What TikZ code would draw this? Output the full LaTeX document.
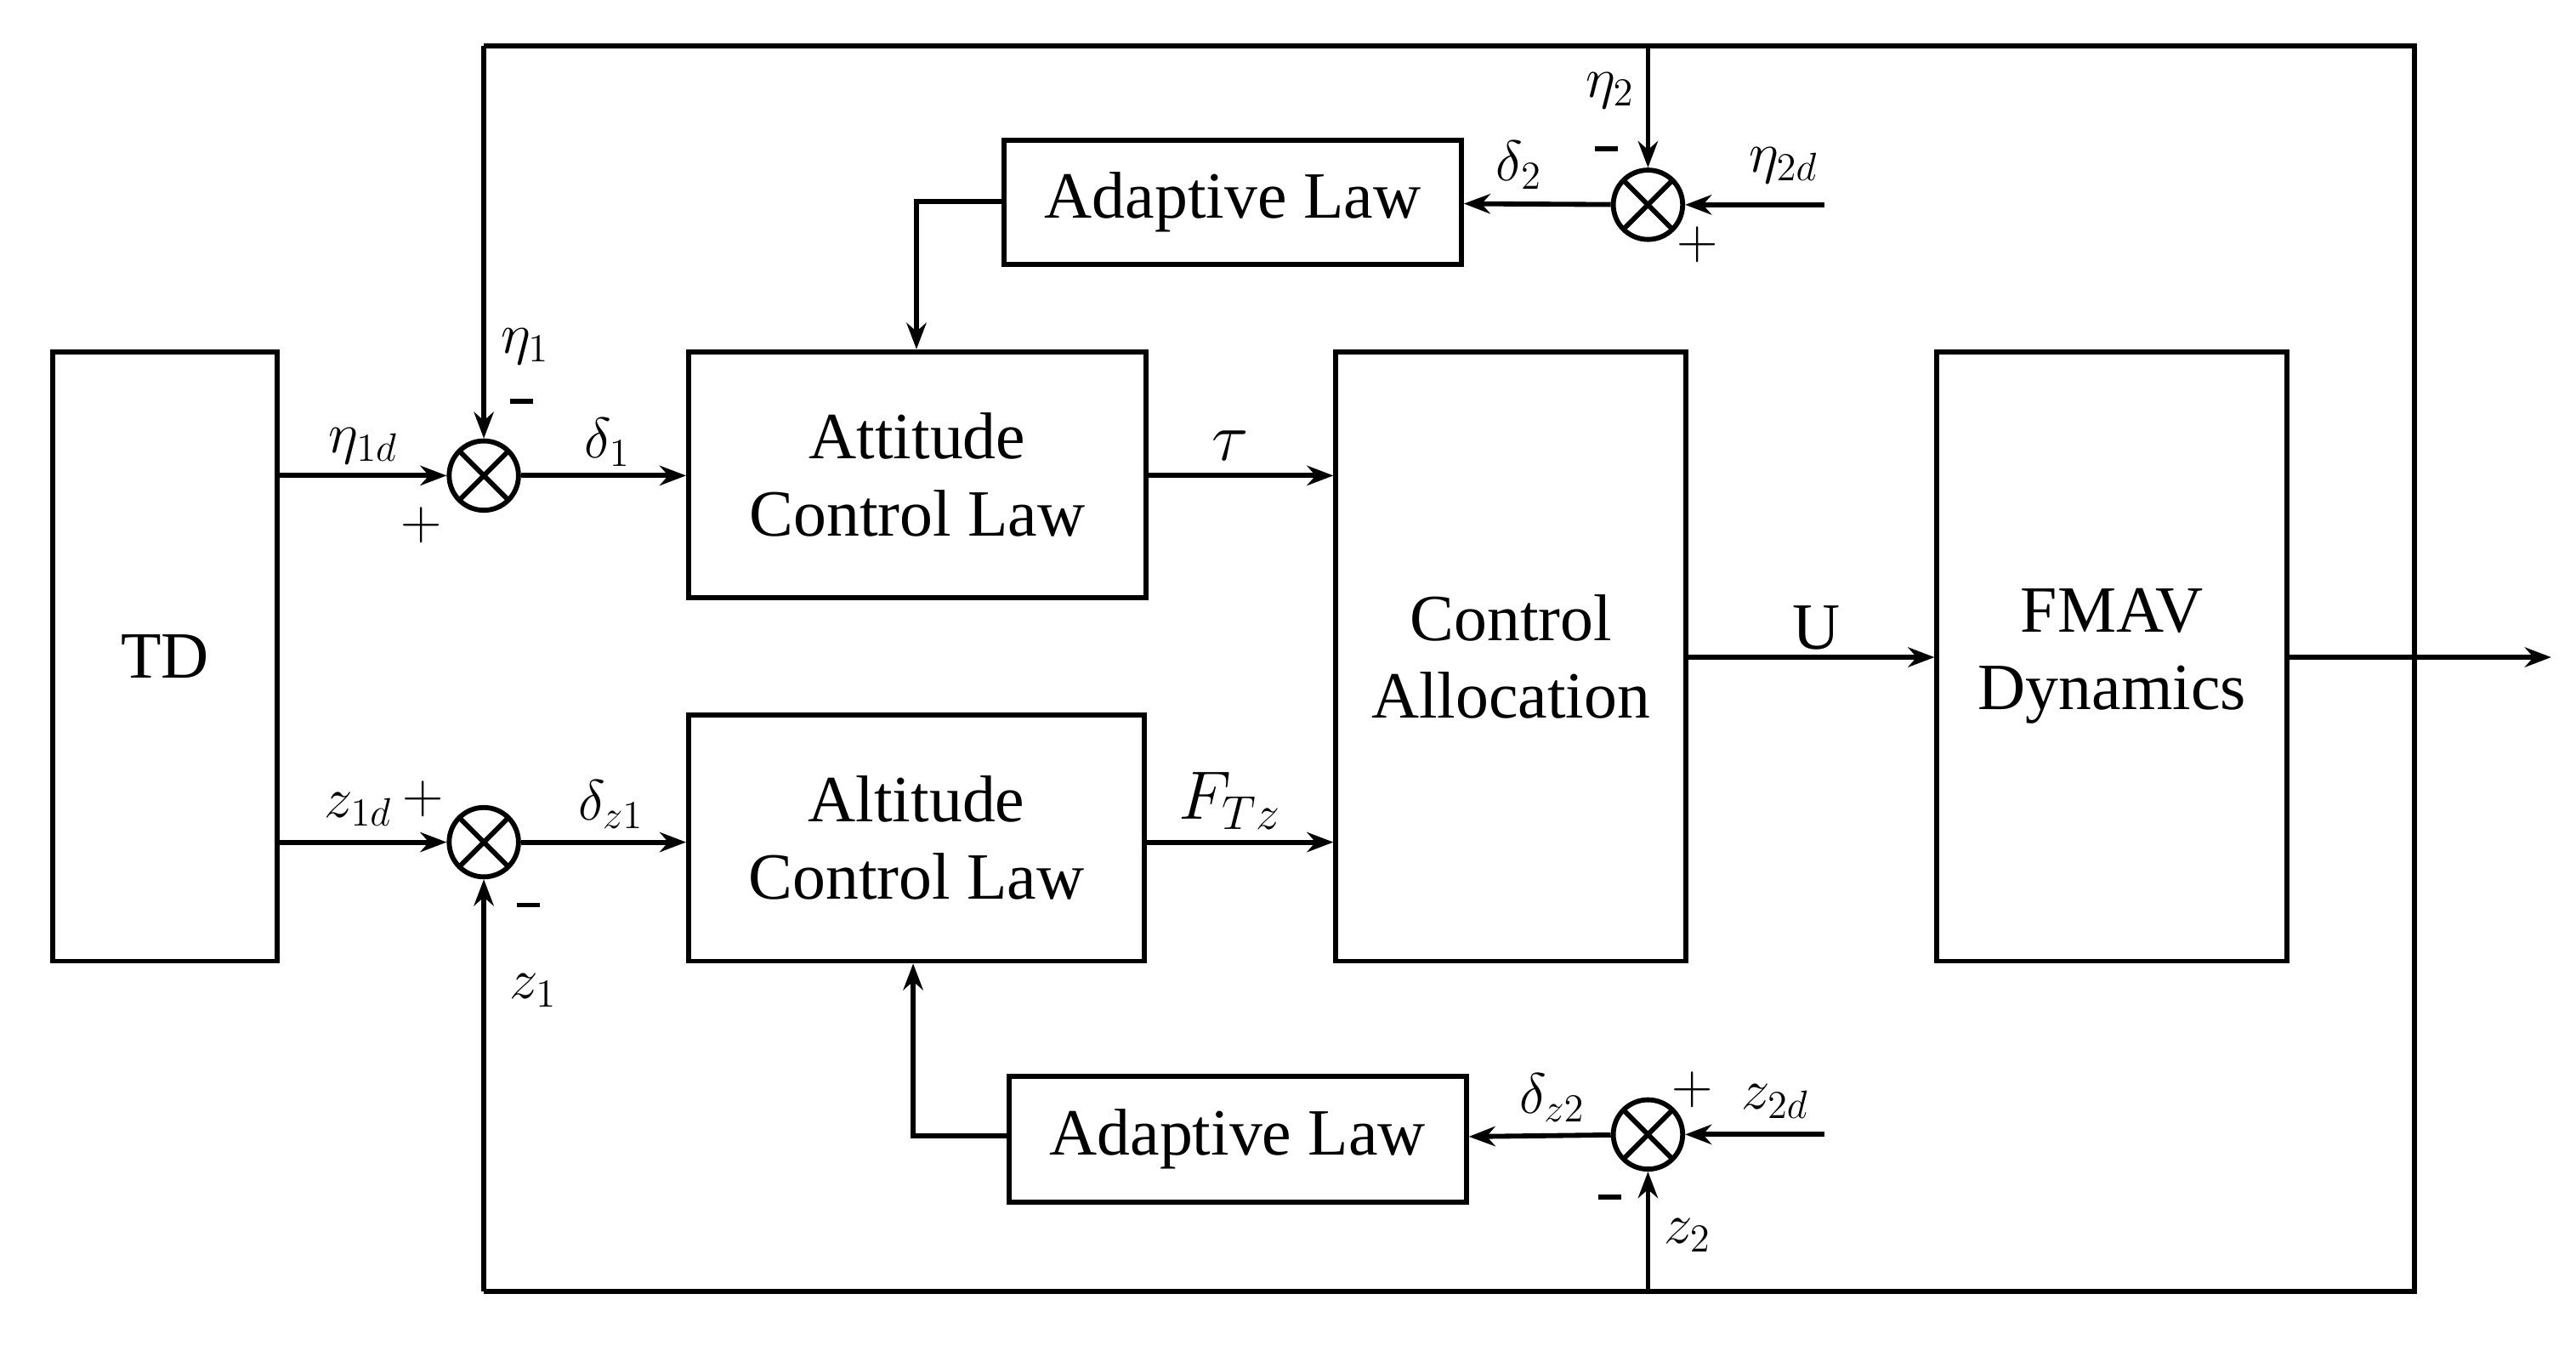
\documentclass[tikz,border=0pt]{standalone}
\usepackage{fontspec}
\setmainfont{Liberation Serif}
\usetikzlibrary{arrows.meta}
\begin{document}
\begin{tikzpicture}[x=0.5pt,y=-0.5pt,
  box/.style={draw,line width=1.5pt,align=center,inner sep=0pt,font=\fontsize{20}{23.5}\selectfont},
  sum/.style={draw,circle,line width=1.5pt,minimum size=21pt,inner sep=0pt,
    path picture={\draw[line width=1.5pt] (path picture bounding box.south west)--(path picture bounding box.north east) (path picture bounding box.north west)--(path picture bounding box.south east);}},
  ln/.style={line width=1.5pt},
  ar/.style={line width=1.5pt,-{Stealth[length=8pt,width=6pt]}},
  lb/.style={font=\fontsize{17}{20}\selectfont,inner sep=1pt},
  sg/.style={inner sep=0pt}]
\useasboundingbox (0,0) rectangle (1560,814);
\node[box,minimum width=68pt,minimum height=184.5pt] (TD) at (100,397.5) {TD};
\node[box,minimum width=138.5pt,minimum height=74.5pt] (att) at (555.5,287.5) {Attitude\\Control Law};
\node[box,minimum width=138pt,minimum height=74.5pt] (alt) at (555,507.5) {Altitude\\Control Law};
\node[box,minimum width=106pt,minimum height=184.5pt] (CA) at (915,397.5) {Control\\Allocation};
\node[box,minimum width=106pt,minimum height=184.5pt] (FM) at (1279,397.5) {FMAV\\Dynamics};
\node[box,minimum width=138.5pt,minimum height=37.5pt] (adt) at (746.5,122.5) {Adaptive Law};
\node[box,minimum width=138.5pt,minimum height=38pt] (adb) at (749.5,690) {Adaptive Law};
\node[sum] (s1) at (293,288) {};
\node[sum] (s2) at (293,510) {};
\node[sum] (s3) at (998,124) {};
\node[sum] (s4) at (998,687) {};
\coordinate (tl) at (293,28); \coordinate (tr) at (1462,28);
\coordinate (br) at (1462,782); \coordinate (bl) at (293,782);
\coordinate (out) at (1545,398);
\coordinate (e2d) at (1105,124); \coordinate (z2d) at (1105,687);
\coordinate (ka) at (555,122); \coordinate (kb) at (553,688);
% connections
\draw[ar] (TD.east|-s1) -- (s1);
\draw[ar] (TD.east|-s2) -- (s2);
\draw[ar] (s1) -- (att.west|-s1);
\draw[ar] (s2) -- (alt.west|-s2);
\draw[ar] (att.east|-s1) -- (CA.west|-s1);
\draw[ar] (alt.east|-s2) -- (CA.west|-s2);
\draw[ar] (CA.east|-out) -- (FM.west|-out);
\draw[ar] (FM.east|-out) -- (out);
\draw[ln] (tl) -- (tr) -- (br) -- (bl);
\draw[ar] (tl) -- (s1);
\draw[ar] (bl) -- (s2);
\draw[ar] (s3|-tl) -- (s3);
\draw[ar] (s4|-bl) -- (s4);
\draw[ar] (e2d) -- (s3);
\draw[ar] (z2d) -- (s4);
\draw[ar] (s3) -- (adt);
\draw[ar] (s4) -- (adb);
\draw[ar] (adt.west|-ka) -- (ka) -- (ka|-att.north);
\draw[ar] (adb.west|-kb) -- (kb) -- (kb|-alt.south);
% labels
\node[lb] at (220,270) {$\eta_{1d}$};
\node[lb] at (255,318) {$+$};
\node[lb] at (318,210) {$\eta_1$};
\node[sg] at (316,243) {\rule{7pt}{1.4pt}};
\node[lb] at (368,268) {$\delta_1$};
\node[lb] at (217,490) {$z_{1d}$};
\node[lb] at (256,484) {$+$};
\node[sg] at (320,548) {\rule{7pt}{1.4pt}};
\node[lb] at (323,600) {$z_1$};
\node[lb] at (370,487) {$\delta_{z1}$};
\node[lb,font=\fontsize{21}{24}\selectfont] at (745,270) {$\tau$};
\node[lb,font=\fontsize{21}{24}\selectfont] at (745,485) {$F_{Tz}$};
\node[box,draw=none] at (1100,380) {U};
\node[lb] at (975,55) {$\eta_2$};
\node[sg] at (973,90) {\rule{7pt}{1.4pt}};
\node[lb] at (1080,100) {$\eta_{2d}$};
\node[lb] at (1028,148) {$+$};
\node[lb] at (920,100) {$\delta_2$};
\node[lb] at (940,665) {$\delta_{z2}$};
\node[lb] at (1025,660) {$+$};
\node[lb] at (1075,667) {$z_{2d}$};
\node[sg] at (975,725) {\rule{7pt}{1.4pt}};
\node[lb] at (1022,748) {$z_2$};
\end{tikzpicture}
\end{document}
